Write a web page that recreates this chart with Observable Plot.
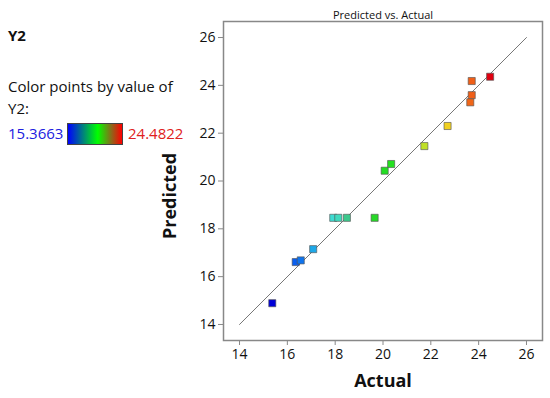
<!DOCTYPE html>
<html><head><meta charset="utf-8">
<script src="https://cdn.jsdelivr.net/npm/d3@7"></script>
<script src="https://cdn.jsdelivr.net/npm/@observablehq/plot@0.6"></script>
<style>
body{margin:0;background:#fff;font-family:"Open Sans","Noto Sans",sans-serif;}
#wrap{position:relative;width:550px;height:398px;overflow:hidden;}
.t{position:absolute;white-space:nowrap;color:#111;}
#bar{position:absolute;left:67px;top:123px;width:56px;height:22px;border:1px solid #444;box-sizing:border-box;
 background:linear-gradient(to right,#0000ff 0%,#00ff00 55%,#8a6a1a 80%,#ff0000 100%);}
</style></head>
<body><div id="wrap"><div id="chart"></div>
<div class="t" style="left:8px;top:25px;font-weight:bold;font-size:15px">Y2</div>
<div class="t" style="left:8px;top:76px;font-size:15px">Color points by value of</div>
<div class="t" style="left:8px;top:98px;font-size:15px">Y2:</div>
<div class="t" id="lo" style="left:8px;top:123px;font-size:15px;color:#2020e0"></div>
<div id="bar"></div>
<div class="t" id="hi" style="left:128px;top:123px;font-size:15px;color:#e02020"></div>
</div>
<script>
const actual    = [15.37, 16.35, 16.56, 17.08, 17.92, 18.13, 18.49, 19.65, 20.07, 20.34, 21.73, 22.70, 23.71, 23.71, 23.65, 24.48];
const predicted = [14.89, 16.61, 16.68, 17.15, 18.46, 18.46, 18.46, 18.46, 20.43, 20.71, 21.46, 22.30, 24.18, 23.59, 23.29, 24.36];
const y2Min = 15.3663, y2Max = 24.4822;
const tickValues = [14, 16, 18, 20, 22, 24, 26];
const lineEnds = [14, 26];
const stopValues = [15.3663, 16.4, 17.08, 18.0, 18.49, 19.65, 20.3, 21.73, 22.70, 23.7, 24.4822];
const stopColors = ["#0000d8", "#0a64f0", "#1ea8e8", "#40e0d0", "#3cc88c", "#28d828", "#20e020", "#c0e028", "#f0d020", "#f06018", "#e00010"];

document.getElementById("lo").textContent = y2Min.toFixed(4);
document.getElementById("hi").textContent = y2Max.toFixed(4);

const pts = actual.map((a, i) => ({actual: a, predicted: predicted[i]}));

const chart = Plot.plot({
  width: 550, height: 398,
  marginLeft: 223, marginRight: 8, marginTop: 21, marginBottom: 58,
  style: {fontFamily: '"Open Sans","Noto Sans",sans-serif', fontSize: "13px", color: "#111", background: "transparent"},
  x: {domain: [13.33, 26.67]},
  y: {domain: [13.33, 26.67]},
  color: {type: "linear", domain: stopValues, range: stopColors, interpolate: "rgb"},
  marks: [
    Plot.axisX({ticks: tickValues, tickSize: 5, tickPadding: 4, stroke: "#888", label: null, fontSize: 14}),
    Plot.axisY({ticks: tickValues, tickSize: 5, tickPadding: 3, stroke: "#888", label: null, fontSize: 14}),
    Plot.line(lineEnds, {x: d => d, y: d => d, stroke: "#777", strokeWidth: 1}),
    Plot.dot(pts, {x: "actual", y: "predicted", symbol: "square", r: 4, fill: "actual", stroke: "#555", strokeOpacity: 0.8, strokeWidth: 0.8}),
    Plot.frame({stroke: "#888", strokeWidth: 1.5}),
    Plot.text(["Predicted vs. Actual"], {frameAnchor: "top", dy: -10, fontSize: 11, fill: "#111"}),
    Plot.text(["Actual"], {frameAnchor: "bottom", dy: 46, fontSize: 18, fontWeight: "bold", fill: "#111"}),
    Plot.text(["Predicted"], {frameAnchor: "left", textAnchor: "middle", dx: -53, dy: 15, rotate: -90, fontSize: 18, fontWeight: "bold", fill: "#111"})
  ]
});
document.getElementById("chart").appendChild(chart);
</script>
</body></html>
